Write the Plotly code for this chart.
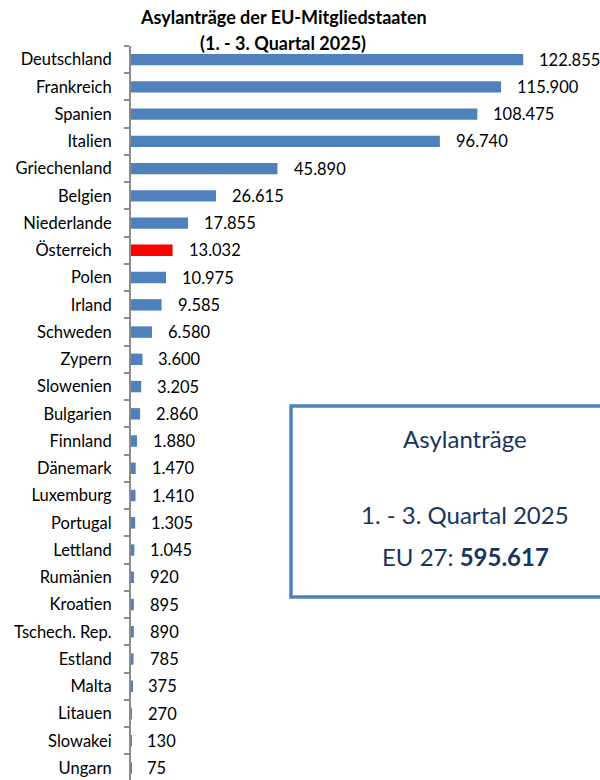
import plotly.graph_objects as go

laender = ["Deutschland", "Frankreich", "Spanien", "Italien", "Griechenland", "Belgien",
           "Niederlande", "Österreich", "Polen", "Irland", "Schweden", "Zypern", "Slowenien",
           "Bulgarien", "Finnland", "Dänemark", "Luxemburg", "Portugal", "Lettland", "Rumänien",
           "Kroatien", "Tschech. Rep.", "Estland", "Malta", "Litauen", "Slowakei", "Ungarn"]
antraege = [122855, 115900, 108475, 96740, 45890, 26615, 17855, 13032, 10975, 9585, 6580,
            3600, 3205, 2860, 1880, 1470, 1410, 1305, 1045, 920, 895, 890, 785, 375, 270,
            130, 75]
eu_summe = 595617

W, H = 600, 780
ml, mr, mt, mb = 131, 22, 46, 0
FONT = "Lato, Open Sans, sans-serif"
blau = "#4F81BD"


def px_x(p):
    return (p - ml) / (W - ml - mr)


def px_y(p):
    return 1 - (p - mt) / (H - mt - mb)


def fmt(v):
    return f"{v:,}".replace(",", ".")


farben = ["#FF0000" if l == "Österreich" else blau for l in laender]

fig = go.Figure()
fig.add_trace(go.Bar(
    x=antraege, y=laender, orientation="h",
    marker=dict(color=farben, line=dict(width=0)),
    width=0.42, hoverinfo="skip",
))

for l, v in zip(laender, antraege):
    fig.add_annotation(x=v, y=l, text=fmt(v), showarrow=False, xanchor="left",
                       xshift=14, font=dict(size=16.5, color="black", family=FONT))

# Titel (zwei Zeilen)
for txt, ypx in [("Asylanträge der EU-Mitgliedstaaten", 17), ("(1. - 3. Quartal 2025)", 43)]:
    fig.add_annotation(xref="paper", yref="paper", x=px_x(283), y=px_y(ypx),
                       text="<b>" + txt + "</b>", showarrow=False,
                       xanchor="center", yanchor="middle",
                       font=dict(size=18, color="black", family=FONT))

# Infobox rechts
fig.add_shape(type="rect", xref="paper", yref="paper",
              x0=px_x(291), x1=px_x(620), y0=px_y(597), y1=px_y(406),
              line=dict(color=blau, width=3.5), fillcolor="white", layer="above")
box_farbe = "#17365D"
for txt, ypx in [("Asylanträge", 438), ("1. - 3. Quartal 2025", 514),
                 ("EU 27: <b>" + fmt(eu_summe) + "</b>", 556)]:
    fig.add_annotation(xref="paper", yref="paper", x=px_x(465), y=px_y(ypx), text=txt,
                       showarrow=False, xanchor="center", yanchor="middle",
                       font=dict(size=24, color=box_farbe, family=FONT))

fig.update_layout(
    width=W, height=H,
    margin=dict(l=ml, r=mr, t=mt, b=mb, autoexpand=False),
    paper_bgcolor="white", plot_bgcolor="white",
    showlegend=False,
    font=dict(family=FONT, color="black"),
)
fig.update_xaxes(range=[0, 140000], visible=False, automargin=False)
fig.update_yaxes(
    categoryorder="array", categoryarray=laender,
    range=[26.44, -0.5], automargin=False,
    showline=True, linecolor="#8C8C8C", linewidth=2,
    ticks="outside", tickson="boundaries", ticklen=5, tickcolor="#8C8C8C", tickwidth=2,
    showgrid=False, zeroline=False, ticklabelstandoff=14,
    tickfont=dict(size=16.5, color="black", family=FONT),
)

# Browser-Standardrand entfernen, damit die Grafik bei (0,0) beginnt
fig.write_html("out.html", config={"displayModeBar": False},
               post_script="document.body.style.margin='0';")
